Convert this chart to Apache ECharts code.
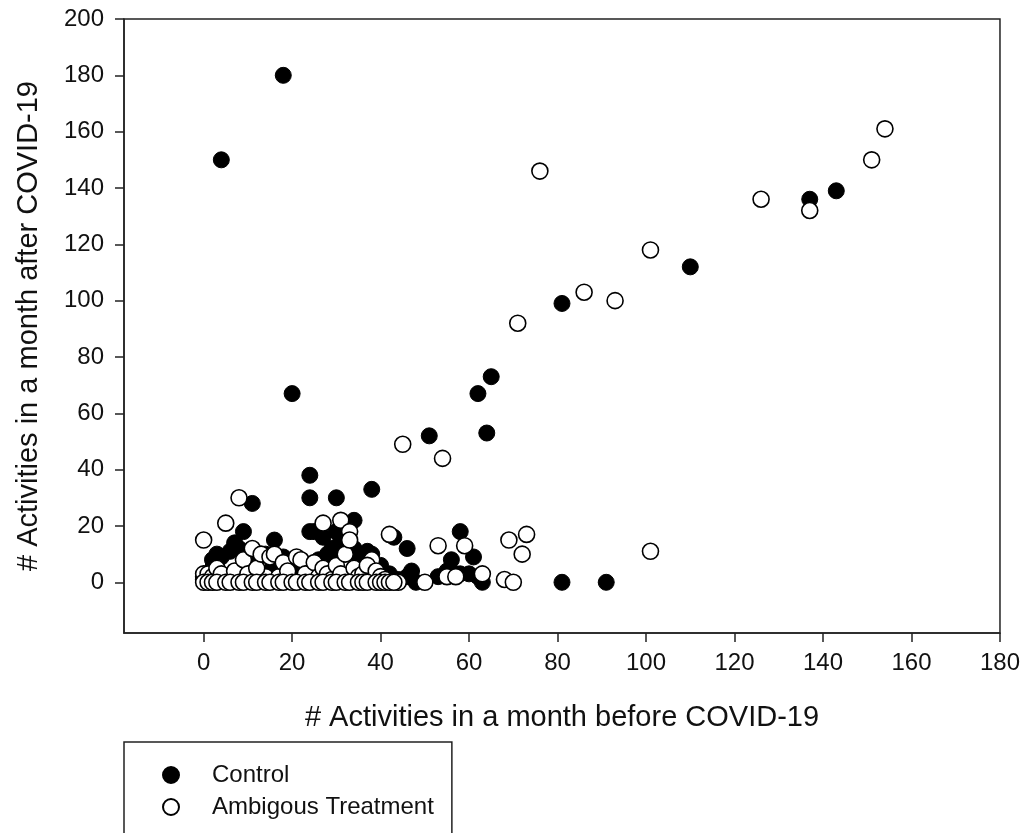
<!DOCTYPE html>
<html>
<head>
<meta charset="utf-8">
<script src="https://cdn.jsdelivr.net/npm/echarts@6/dist/echarts.min.js"></script>
<style>
  html, body { margin: 0; padding: 0; background: #fff; }
  #chart { width: 1023px; height: 833px; }
</style>
</head>
<body>
<div id="chart"></div>
<script>
// tick labels
var xTicks = [0, 20, 40, 60, 80, 100, 120, 140, 160, 180];
var yTicks = [0, 20, 40, 60, 80, 100, 120, 140, 160, 180, 200];

// Control group: [before, after]
var controlPoints = [
  [4, 150], [18, 180], [20, 67], [24, 38], [24, 30], [30, 30], [38, 33], [11, 28],
  [9, 18], [34, 22], [16, 15], [51, 52], [62, 67], [65, 73], [64, 53], [81, 99],
  [110, 112], [137, 136], [143, 139], [81, 0], [91, 0], [58, 18], [61, 9], [56, 8],
  [63, 0], [58, 3], [60, 3], [46, 12], [43, 16], [47, 4], [46, 2], [53, 2],
  [2, 8], [4, 9], [7, 14], [6, 11], [2, 5], [10, 7], [12, 8], [14, 10],
  [18, 9], [20, 6], [22, 5], [25, 18], [27, 16], [28, 10], [26, 8], [30, 8],
  [30, 18], [34, 12], [37, 11], [35, 8], [38, 10], [40, 6], [42, 3], [44, 1],
  [30, 5], [24, 6], [15, 4], [1, 2], [33, 3], [37, 4], [55, 4], [57, 3],
  [62, 2], [48, 0], [20, 3], [29, 12], [31, 15], [24, 18], [3, 10], [8, 12]
];

// Ambigous Treatment group: [before, after]
var ambiguousPoints = [
  [76, 146], [154, 161], [151, 150], [126, 136], [137, 132], [101, 118], [86, 103], [93, 100],
  [71, 92], [45, 49], [54, 44], [101, 11], [73, 17], [69, 15], [72, 10], [68, 1],
  [70, 0], [63, 3], [59, 13], [53, 13], [55, 2], [57, 2], [50, 0], [44, 0],
  [42, 17], [0, 15], [8, 30], [5, 21], [31, 22], [27, 21], [33, 18], [38, 8],
  [0, 1], [0, 2], [0, 3], [1, 1], [1, 3], [2, 2], [6, 1], [14, 2],
  [3, 5], [4, 3], [7, 4], [9, 8], [10, 3], [11, 12], [12, 5], [13, 10],
  [15, 9], [16, 10], [17, 2], [18, 7], [19, 4], [21, 9], [22, 8], [23, 3],
  [25, 7], [26, 2], [27, 5], [28, 3], [29, 1], [30, 6], [31, 3], [32, 10],
  [33, 15], [34, 5], [35, 2], [36, 3], [37, 6], [39, 4], [40, 2], [41, 1],
  [0, 0], [1, 0], [2, 0], [3, 0], [5, 0], [6, 0], [8, 0], [9, 0],
  [11, 0], [12, 0], [14, 0], [15, 0], [17, 0], [18, 0], [20, 0], [21, 0],
  [23, 0], [24, 0], [26, 0], [27, 0], [29, 0], [30, 0], [32, 0], [33, 0],
  [35, 0], [36, 0], [37, 0], [39, 0], [40, 0], [41, 0], [42, 0], [43, 0]
];

var font = 'Liberation Sans, Arial, sans-serif';
var chart = echarts.init(document.getElementById('chart'));

chart.setOption({
  animation: false,
  backgroundColor: '#fff',
  textStyle: { fontFamily: font, color: '#111' },
  grid: {
    left: 124, top: 19, right: 23, bottom: 200,
    show: true, borderColor: '#222', borderWidth: 1.5, containLabel: false
  },
  legend: {
    orient: 'vertical',
    left: 124, top: 742,
    height: 300,
    padding: [21, 18, 60, 38],
    borderColor: '#222', borderWidth: 1.5,
    itemWidth: 16, itemHeight: 16, itemGap: 8,
    textStyle: { fontFamily: font, fontSize: 24, lineHeight: 22, color: '#111', padding: [0, 0, 0, 28] },
    data: [
      { name: 'Control', icon: 'circle' },
      { name: 'Ambigous Treatment', icon: 'circle' }
    ]
  },
  xAxis: {
    type: 'value',
    min: -18, max: 180,
    name: '# Activities in a month before COVID-19',
    nameLocation: 'middle',
    nameGap: 70,
    nameTextStyle: { fontFamily: font, fontSize: 29, color: '#111' },
    axisLine: { show: true, onZero: false, lineStyle: { color: '#222', width: 1.5 } },
    axisTick: { show: true, customValues: xTicks, length: 9, lineStyle: { color: '#222', width: 1.5 } },
    axisLabel: { customValues: xTicks, fontSize: 24, color: '#111', margin: 18 },
    splitLine: { show: false }
  },
  yAxis: {
    type: 'value',
    min: -18, max: 200,
    name: '# Activities in a month after COVID-19',
    nameLocation: 'middle',
    nameGap: 81,
    nameTextStyle: { fontFamily: font, fontSize: 29, color: '#111' },
    axisLine: { show: true, onZero: false, lineStyle: { color: '#222', width: 1.5 } },
    axisTick: { show: true, customValues: yTicks, length: 9, lineStyle: { color: '#222', width: 1.5 } },
    axisLabel: { customValues: yTicks, fontSize: 24, color: '#111', margin: 20 },
    splitLine: { show: false }
  },
  series: [
    {
      name: 'Control',
      type: 'scatter',
      symbol: 'circle',
      symbolSize: 16,
      itemStyle: { color: '#000', borderColor: '#000', borderWidth: 1, opacity: 1 },
      data: controlPoints
    },
    {
      name: 'Ambigous Treatment',
      type: 'scatter',
      symbol: 'circle',
      symbolSize: 16,
      itemStyle: { color: '#fff', borderColor: '#000', borderWidth: 1.6, opacity: 1 },
      data: ambiguousPoints
    }
  ]
});
</script>
</body>
</html>
